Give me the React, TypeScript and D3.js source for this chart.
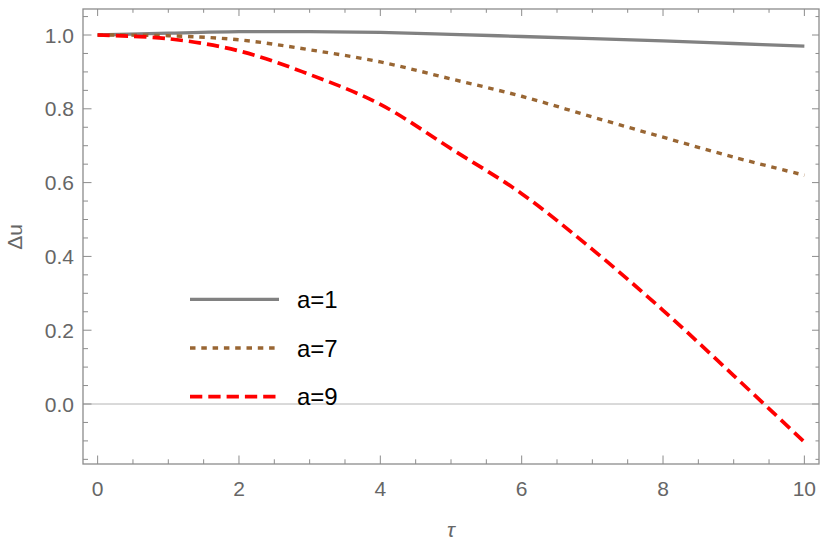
import React from "react";
import * as d3 from "d3";

const TAU = [0, 1, 2, 3, 4, 5, 6, 7, 8, 9, 10];
const A1 = [1.0, 1.005, 1.009, 1.009, 1.007, 1.002, 0.996, 0.99, 0.984, 0.977, 0.97];
const A7 = [1.0, 0.998, 0.987, 0.96, 0.927, 0.881, 0.834, 0.778, 0.723, 0.669, 0.62];
const A9 = [1.0, 0.99, 0.957, 0.893, 0.812, 0.692, 0.57, 0.419, 0.254, 0.077, -0.103];

const X_TICKS = [0, 2, 4, 6, 8, 10];
const Y_TICKS = [0, 0.2, 0.4, 0.6, 0.8, 1.0];

const SERIES = [
  { label: "a=1", values: A1, color: "#818181", dash: "none", width: 3.3 },
  { label: "a=7", values: A7, color: "#996633", dash: "5.5 5.8", width: 3.4 },
  { label: "a=9", values: A9, color: "#ff0000", dash: "12.3 6", width: 3.7 },
];

const W = 830;
const H = 547;
const FRAME = { left: 83, right: 819, top: 9, bottom: 464 };
const FONT = "'Liberation Sans', Arial, sans-serif";
const TICK_COLOR = "#666666";
const FRAME_COLOR = "#8c8c8c";

export default function App() {
  const x = d3.scaleLinear().domain([-0.207, 10.207]).range([FRAME.left, FRAME.right]);
  const y = d3.scaleLinear().domain([-0.1626, 1.0705]).range([FRAME.bottom, FRAME.top]);

  const line = d3
    .line<number>()
    .x((_, i) => x(TAU[i]))
    .y((d) => y(d))
    .curve(d3.curveCatmullRom.alpha(0.5));

  const xMinor = d3.range(0, 10.001, 0.5).filter((v) => !X_TICKS.includes(v));
  const yMinor = d3
    .range(-0.15, 1.0501, 0.05)
    .map((v) => Math.round(v * 100) / 100)
    .filter((v) => !Y_TICKS.some((t) => Math.abs(t - v) < 1e-6));

  const fmt = d3.format(".1f");

  return (
    <svg
      width={W}
      height={H}
      style={{ position: "absolute", left: 0, top: 0, background: "#fff" }}
    >
      {/* zero grid line */}
      <line
        x1={FRAME.left}
        x2={FRAME.right}
        y1={y(0)}
        y2={y(0)}
        stroke="#b4b4b4"
        strokeWidth={1}
      />

      {/* curves */}
      {SERIES.map((s) => (
        <path
          key={s.label}
          d={line(s.values) ?? ""}
          fill="none"
          stroke={s.color}
          strokeWidth={s.width}
          strokeDasharray={s.dash}
        />
      ))}

      {/* frame */}
      <rect
        x={FRAME.left}
        y={FRAME.top}
        width={FRAME.right - FRAME.left}
        height={FRAME.bottom - FRAME.top}
        fill="none"
        stroke={FRAME_COLOR}
        strokeWidth={1.3}
      />

      {/* x ticks bottom and top */}
      {X_TICKS.map((t) => (
        <g key={`xt${t}`} stroke={FRAME_COLOR} strokeWidth={1}>
          <line x1={x(t)} x2={x(t)} y1={FRAME.bottom} y2={FRAME.bottom - 8.5} />
          <line x1={x(t)} x2={x(t)} y1={FRAME.top} y2={FRAME.top + 7} />
        </g>
      ))}
      {xMinor.map((t) => (
        <g key={`xm${t}`} stroke={FRAME_COLOR} strokeWidth={1}>
          <line x1={x(t)} x2={x(t)} y1={FRAME.bottom} y2={FRAME.bottom - 4.7} />
          <line x1={x(t)} x2={x(t)} y1={FRAME.top} y2={FRAME.top + 3.8} />
        </g>
      ))}

      {/* y ticks left and right */}
      {Y_TICKS.map((t) => (
        <g key={`yt${t}`} stroke={FRAME_COLOR} strokeWidth={1}>
          <line x1={FRAME.left} x2={FRAME.left + 8.5} y1={y(t)} y2={y(t)} />
          <line x1={FRAME.right} x2={FRAME.right - 7} y1={y(t)} y2={y(t)} />
        </g>
      ))}
      {yMinor.map((t) => (
        <g key={`ym${t}`} stroke={FRAME_COLOR} strokeWidth={1}>
          <line x1={FRAME.left} x2={FRAME.left + 5} y1={y(t)} y2={y(t)} />
          <line x1={FRAME.right} x2={FRAME.right - 3.5} y1={y(t)} y2={y(t)} />
        </g>
      ))}

      {/* tick labels */}
      {X_TICKS.map((t) => (
        <text
          key={`xl${t}`}
          x={x(t)}
          y={495.5}
          textAnchor="middle"
          fill={TICK_COLOR}
          fontFamily={FONT}
          fontSize={21}
        >
          {t}
        </text>
      ))}
      {Y_TICKS.map((t) => (
        <text
          key={`yl${t}`}
          x={74}
          y={y(t)}
          dy="0.36em"
          textAnchor="end"
          fill={TICK_COLOR}
          fontFamily={FONT}
          fontSize={21}
        >
          {fmt(t)}
        </text>
      ))}

      {/* axis labels */}
      <text
        x={(FRAME.left + FRAME.right) / 2}
        y={537}
        textAnchor="middle"
        fill={TICK_COLOR}
        fontFamily={FONT}
        fontSize={21}
        fontStyle="italic"
      >
        τ
      </text>
      <text
        transform={`translate(22,${237}) rotate(-90)`}
        textAnchor="middle"
        fill={TICK_COLOR}
        fontFamily={FONT}
        fontSize={21}
      >
        Δu
      </text>

      {/* legend */}
      {SERIES.map((s, i) => {
        const ly = 299.3 + i * 48.7;
        return (
          <g key={`lg${s.label}`}>
            <line
              x1={190}
              x2={279}
              y1={ly}
              y2={ly}
              stroke={s.color}
              strokeWidth={s.width}
              strokeDasharray={s.dash}
            />
            <text
              x={297}
              y={ly}
              dy="0.36em"
              fill="#000"
              fontFamily={FONT}
              fontSize={24}
            >
              {s.label}
            </text>
          </g>
        );
      })}
    </svg>
  );
}
